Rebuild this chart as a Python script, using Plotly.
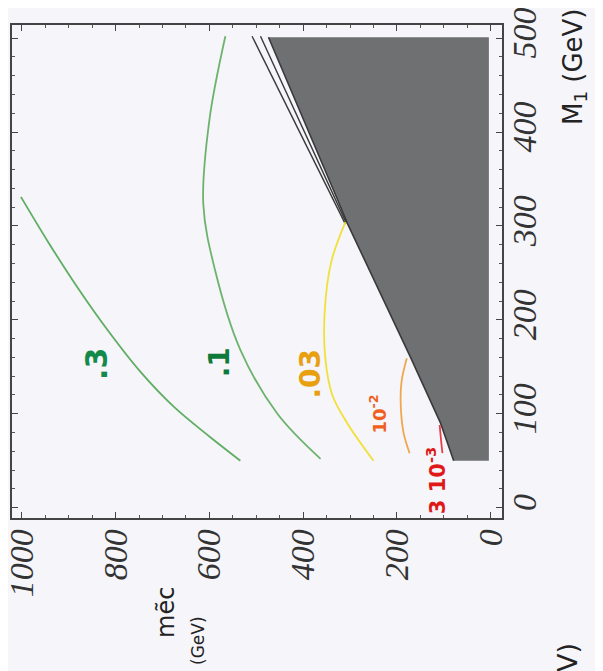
import plotly.graph_objects as go

# ---- data (m_ec in GeV on the horizontal axis, M1 in GeV on the vertical axis) ----
x_ticks = [0, 200, 400, 600, 800, 1000]
y_ticks = [0, 100, 200, 300, 400, 500]

# excluded (gray) region boundary
bound_mec = [79, 107, 171, 306, 325, 388, 474]
bound_m1 = [50, 90, 160, 303, 326, 400, 501]
gray_edge_mec = 4

# dark contour lines hugging the boundary
lineB_mec = [509, 335, 310]
lineB_m1 = [502, 326, 302]
lineC_mec = [491, 330, 308]
lineC_m1 = [502, 326, 303]

# relic density contours
c03_mec = [1002, 944, 882, 814, 746, 675, 598, 534]
c03_m1 = [331, 283, 235, 187, 144, 107, 75, 50]
c01_mec = [566, 600, 613, 588, 534, 455, 363]
c01_m1 = [502, 413, 323, 253, 168, 100, 52]
c003_mec = [310, 340, 354, 353, 338, 306, 250]
c003_m1 = [304, 262, 210, 160, 120, 90, 50]
c001_mec = [179, 190, 192, 186, 173]
c001_m1 = [159, 135, 110, 80, 58]
c0003_mec = [109, 106, 103]
c0003_m1 = [88, 72, 58]

labels = [".3", ".1", ".03", "10<sup>-2</sup>", "3 10<sup>-3</sup>"]
label_mec = [842, 579, 385, 241, 115]
label_m1 = [153, 155, 143, 100, 29]
label_colors = ["#138a4a", "#0e7a3a", "#e8a010", "#f06020", "#e01818"]
label_sizes = [30, 28, 28, 18, 21]

BG = "#f5f5fa"
OFF = 8  # page body margin of the browser
SL, SR, ST, SB = 12, 502, 25, 518  # plot frame as seen on screen
PW, PH = SR - SL, SB - ST


def px(xs):
    return (xs - SL) / PW


def py(ys):
    return (SB - ys) / PH


fig = go.Figure()

# gray excluded region
gx = bound_mec + [gray_edge_mec, gray_edge_mec]
gy = bound_m1 + [bound_m1[-1], bound_m1[0]]
fig.add_trace(go.Scatter(x=gx, y=gy, fill="toself", fillcolor="#6f7072",
                         line=dict(color="#6f7072", width=0), mode="lines", hoverinfo="skip"))
fig.add_trace(go.Scatter(x=bound_mec, y=bound_m1, mode="lines",
                         line=dict(color="#3a3a3a", width=1.6)))
fig.add_trace(go.Scatter(x=lineB_mec, y=lineB_m1, mode="lines",
                         line=dict(color="#3a3a3a", width=1.4)))
fig.add_trace(go.Scatter(x=lineC_mec, y=lineC_m1, mode="lines",
                         line=dict(color="#3a3a3a", width=1.4)))

curves = [
    (c03_mec, c03_m1, "#5fae62"),
    (c01_mec, c01_m1, "#6db36d"),
    (c003_mec, c003_m1, "#f2e03a"),
    (c001_mec, c001_m1, "#f0a850"),
    (c0003_mec, c0003_m1, "#e8404a"),
]
for cx, cy, col in curves:
    fig.add_trace(go.Scatter(x=cx, y=cy, mode="lines",
                             line=dict(color=col, width=1.8, shape="spline", smoothing=1.0)))

for t, lx, ly, col, sz in zip(labels, label_mec, label_m1, label_colors, label_sizes):
    fig.add_annotation(x=lx, y=ly, text=t, showarrow=False, textangle=-90,
                       xanchor="center", yanchor="middle",
                       font=dict(family="DejaVu Sans", size=sz, color=col, weight="bold"))

tickfont = dict(family="Liberation Serif", size=34, color="#333333", style="italic")
axis_common = dict(showgrid=False, zeroline=False, showline=True, linecolor="#444444",
                   linewidth=1.5, mirror="allticks", ticks="inside", ticklen=6,
                   tickcolor="#444444", tickangle=-90, tickfont=tickfont, automargin=False,
                   ticklabeloverflow="allow")

fig.update_xaxes(range=[1021, -24], tickvals=x_ticks, ticktext=[str(v) for v in x_ticks],
                 minor=dict(ticks="inside", ticklen=3, dtick=50, tickcolor="#555555"),
                 ticklabelstandoff=-4, **axis_common)
fig.update_yaxes(range=[-11, 514], side="right", tickvals=y_ticks,
                 ticktext=[str(v) for v in y_ticks],
                 minor=dict(ticks="inside", ticklen=3, dtick=20, tickcolor="#555555"),
                 ticklabelstandoff=-9, **axis_common)

# axis titles (handwritten in the original)
ann = dict(xref="paper", yref="paper", showarrow=False, textangle=-90,
           xanchor="center", yanchor="middle")
fig.add_annotation(x=px(574), y=py(67), text="M<sub>1</sub> (GeV)",
                   font=dict(family="DejaVu Sans", size=26, color="#222222"), **ann)
fig.add_annotation(x=px(166), y=py(613), text="mẽc",
                   font=dict(family="DejaVu Sans", size=24, color="#222222"), **ann)
fig.add_annotation(x=px(198), y=py(641), text="(GeV)",
                   font=dict(family="DejaVu Sans", size=17, color="#222222"), **ann)
fig.add_annotation(x=px(567), y=py(682), text="(GeV)",
                   font=dict(family="DejaVu Sans", size=27, color="#222222"), **ann)

fig.update_layout(width=603, height=671,
                  margin=dict(l=SL - OFF, r=603 - (SR - OFF), t=ST - OFF, b=671 - (SB - OFF)),
                  paper_bgcolor=BG, plot_bgcolor=BG, showlegend=False)

fig.write_html("out.html")
